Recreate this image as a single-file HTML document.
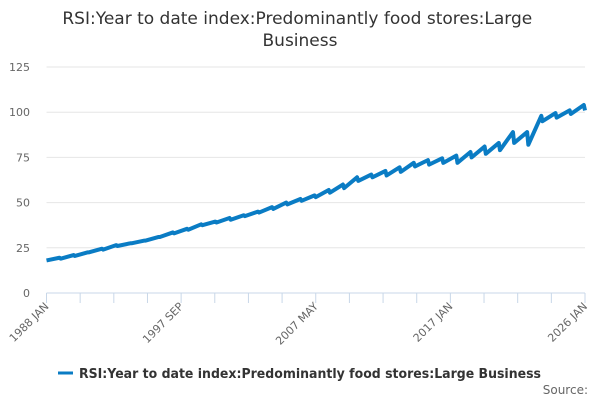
<!DOCTYPE html>
<html><head><meta charset="utf-8"><style>
body{margin:0;background:#fff;font-family:"Liberation Sans","DejaVu Sans",sans-serif}
</style></head><body>
<svg width="600" height="400" xmlns="http://www.w3.org/2000/svg" font-family="'DejaVu Sans','Liberation Sans',sans-serif">
<text x="300" y="24" text-anchor="middle" font-size="17" fill="#333">RSI:Year to date index:Predominantly food stores:Large <tspan x="300" y="46">Business</tspan></text>
<g id="grid"></g><g id="axes"></g><g id="series"></g>
<g>
<line x1="58" y1="373" x2="73" y2="373" stroke="#0a7cc4" stroke-width="3"/>
<text x="79" y="378" font-size="13" fill="#333" font-weight="bold" textLength="462" lengthAdjust="spacingAndGlyphs">RSI:Year to date index:Predominantly food stores:Large Business</text>
</g>
<text x="588" y="394" text-anchor="end" font-size="12" fill="#666">Source:</text>
</svg>
<script>
const years=[1988,1989,1990,1991,1992,1993,1994,1995,1996,1997,1998,1999,2000,2001,2002,2003,2004,2005,2006,2007,2008,2009,2010,2011,2012,2013,2014,2015,2016,2017,2018,2019,2020,2021,2022,2023,2024,2025,2026];
const janValues=[18,19,20.5,22.5,24,26,27.5,29,31,33,35,37.5,39,40.5,42.5,44.5,46.5,49,51,53,55.5,58,62,64,65,67,70,71,72,72,75,77,79,83,82,95,97,99,101];
const decValues=[19.5,21,22.5,24.5,26.5,27.5,29,31,33.5,35.5,38,39.5,41.5,43,45,47.5,50,52,54,57,60,64,65.5,67.5,69.5,72,73.5,74.5,76,78,81,83,89,89,98,99.5,101,104,null];
const yTicks=[0,25,50,75,100,125];
const xLabels=["1988 JAN","1997 SEP","2007 MAY","2017 JAN","2026 JAN"];
const NS="http://www.w3.org/2000/svg";
const x0=46.5,x1=585,y0=293,y1=67,totalMonths=456;
const X=m=>x0+m/totalMonths*(x1-x0);
const Y=v=>y0-v/125*(y0-y1);
function mk(t,a,p){const e=document.createElementNS(NS,t);for(const k in a)e.setAttribute(k,a[k]);p.appendChild(e);return e;}
const grid=document.getElementById('grid'),axes=document.getElementById('axes'),ser=document.getElementById('series');
yTicks.forEach(v=>{
 if(v>0){const l=mk('line',{x1:x0,x2:x1,y1:Y(v),y2:Y(v),stroke:'#e6e6e6'},grid);
 
 }
 const t=mk('text',{x:30,y:Y(v)+4,'text-anchor':'end','font-size':11,fill:'#666'},axes);t.textContent=v;
 
 
});
const ax=mk('line',{x1:x0,x2:x1,y1:y0,y2:y0,stroke:'#c8d7e8'},axes);


for(let i=0;i<=16;i++){const x=x0+i*(x1-x0)/16;mk('line',{x1:x,x2:x,y1:y0,y2:y0+10,stroke:'#c8d7e8'},axes);}
xLabels.forEach((s,i)=>{const x=x0+i*4*(x1-x0)/16;
 const t=mk('text',{x:x+3,y:y0+14,'text-anchor':'end','font-size':11,fill:'#666',transform:`rotate(-45 ${x+3} ${y0+14})`},axes);t.textContent=s;
 
 
});
let pts=[];
years.forEach((yr,i)=>{const m=(yr-1988)*12;pts.push([X(m),Y(janValues[i])]);if(decValues[i]!=null)pts.push([X(m+11),Y(decValues[i])]);});
const p=mk('polyline',{points:pts.map(q=>q.join(',')).join(' '),fill:'none',stroke:'#0a7cc4','stroke-width':4,'stroke-linejoin':'round'},ser);


</script>
</body></html>
